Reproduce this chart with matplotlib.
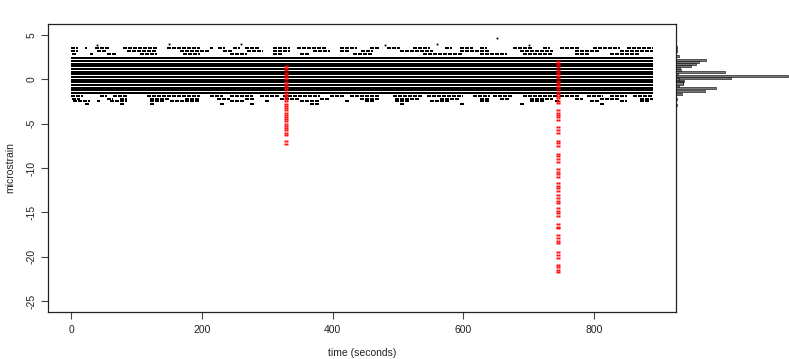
import matplotlib
matplotlib.use("Agg")
import matplotlib.pyplot as plt

# ---------------- data ----------------
t_start, t_end = 0, 890

# strain levels that are (almost) continuously occupied over the whole record
dense_levels = [2.35, 2.05, 1.75, 1.45, 1.15, 0.85, 0.55, 0.25, -0.05, -0.35,
                -0.65, -0.95, -1.25, -1.55]

# sparsely occupied levels and the time spans (s) where samples occur
sparse_levels = [3.55, 3.2, 2.8, -1.9, -2.2, -2.5, -2.8]
sparse_segments = [
    [(0, 11), (21, 24), (37, 60), (80, 132), (147, 197), (213, 217), (225, 236),
     (248, 259), (266, 289), (309, 335), (346, 392), (412, 438), (458, 473),
     (484, 503), (523, 549), (572, 583), (595, 615), (626, 636), (676, 707),
     (722, 733), (748, 779), (799, 840), (850, 890)],
    [(0, 11), (40, 55), (86, 132), (167, 213), (233, 248), (269, 294), (309, 335),
     (370, 396), (412, 427), (443, 462), (503, 554), (595, 641), (687, 737),
     (771, 809), (840, 890)],
    [(1, 9), (29, 34), (55, 70), (105, 132), (171, 197), (243, 269), (309, 324),
     (350, 365), (431, 462), (539, 600), (626, 667), (692, 737), (771, 794),
     (825, 871)],
    [(0, 18), (44, 55), (64, 86), (116, 197), (213, 233), (243, 278), (289, 320),
     (324, 381), (396, 419), (427, 473), (493, 539), (545, 600), (615, 641),
     (646, 676), (692, 744), (748, 779), (790, 814), (825, 851), (860, 890)],
    [(1, 14), (55, 64), (75, 86), (121, 151), (174, 197), (223, 243), (266, 282),
     (320, 350), (381, 396), (442, 473), (496, 534), (565, 595), (626, 641),
     (656, 672), (702, 737), (771, 783), (809, 840), (870, 890)],
    [(3, 29), (40, 44), (60, 86), (121, 144), (151, 197), (243, 266), (297, 305),
     (350, 381), (419, 427), (450, 465), (496, 519), (549, 580), (626, 641),
     (702, 725), (741, 748), (794, 809), (840, 851), (870, 885)],
    [(21, 29), (75, 83), (121, 129), (228, 236), (274, 282), (366, 381),
     (503, 511), (595, 603), (687, 695), (809, 817)],
]

outlier_t = [652, 260, 480, 40, 150, 560, 700]
outlier_y = [4.6, 4.0, 3.9, 3.9, 3.95, 4.0, 3.9]

# flagged samples (red)
red1_t = [327, 331]
red1_y = [1.5, 1.25, 1.0, 0.75, 0.5, 0.25, 0.0, -0.25, -0.5, -0.75, -1.0, -1.25,
          -1.5, -1.75, -2.0, -2.25, -2.5, -2.75, -3.0, -3.25, -3.5, -3.75, -4.0,
          -4.25, -4.5, -4.75, -5.0, -5.25, -5.5, -5.75, -6.0, -6.25, -7.0, -7.3]
red2_t = [743, 747]
red2_y = [2.1, 1.85, 1.6, 1.35, 1.1, 0.85, 0.6, 0.35, 0.1, -0.15, -0.4, -0.65,
          -0.9, -1.15, -1.4, -1.65, -1.9, -2.15, -2.4, -2.7,
          -3.5, -3.75, -4.0, -4.3, -4.6, -5.4, -5.7, -6.0, -6.9, -7.2, -7.5,
          -8.4, -8.7, -9.0, -9.3, -10.1, -10.4, -10.7, -11.0, -11.7, -12.0,
          -12.3, -12.6, -13.1, -13.4, -13.7, -13.9, -14.5, -14.8, -15.1, -15.4,
          -16.3, -16.6, -16.8, -17.6, -17.9, -18.2, -18.5, -19.5, -19.8, -20.1,
          -20.9, -21.2, -21.5, -21.7]

# marginal histogram (bar centres in microstrain, relative counts)
hist_levels = [3.6, 3.25, 2.67, 2.22, 1.96, 1.73, 1.46, 1.24, 1.09, 0.87, 0.63,
               0.41, 0.16, -0.02, -0.23, -0.36, -0.48, -0.74, -0.97, -1.31,
               -1.69, -2.2, -2.85]
hist_counts = [1, 1, 3, 30, 23, 20, 15, 4, 5, 49, 2, 112, 55, 3, 8, 7, 7, 3,
               40, 29, 6, 1, 1]

x_ticks = [0, 200, 400, 600, 800]
y_ticks = [5, 0, -5, -10, -15, -20, -25]

# ---------------- figure ----------------
plt.rcParams['font.family'] = ['Liberation Sans', 'DejaVu Sans']
plt.rcParams['axes.unicode_minus'] = False
W, H = 789, 359
fig = plt.figure(figsize=(W / 100, H / 100), dpi=100)
L, R, T, B = 47.7, 676.3, 24.3, 311.7
ax = fig.add_axes([L / W, 1 - B / H, (R - L) / W, (B - T) / H])

ax.hlines(dense_levels, t_start, t_end, color='black', lw=1.3, antialiased=False)
for lev, segs in zip(sparse_levels, sparse_segments):
    ax.hlines([lev] * len(segs), [s[0] for s in segs], [s[1] for s in segs],
              color='black', lw=1.3, antialiased=False,
              linestyles=[(0, (2.2, 0.8))])
ax.plot(outlier_t, outlier_y, 's', ms=1.3, color='black', mec='none')

for tt in red1_t:
    ax.plot([tt] * len(red1_y), red1_y, 's', ms=1.4, color='red', mec='none')
for tt in red2_t:
    ax.plot([tt] * len(red2_y), red2_y, 's', ms=1.4, color='red', mec='none')

ax.set_xlim(-35.8, 926)
ax.set_ylim(-26.2, 6.2)
ax.set_xticks(x_ticks)
ax.set_yticks(y_ticks)
ax.set_yticklabels([str(v) for v in y_ticks], rotation=90, va='center')
ax.tick_params(axis='both', length=4.8, width=0.8, color='#444444',
               labelsize=7.5, labelcolor='#222222')
ax.tick_params(axis='x', pad=5)
ax.tick_params(axis='y', pad=3.5)
for s in ax.spines.values():
    s.set_linewidth(0.9)
    s.set_color('#222222')
ax.set_xlabel('time (seconds)', fontsize=7.5, color='#222222', labelpad=9)
ax.set_ylabel('microstrain', fontsize=7.5, color='#222222', labelpad=8)

hx = fig.add_axes([R / W, 1 - B / H, (W - R) / W, (B - T) / H], sharey=ax)
hx.barh(hist_levels, hist_counts, height=0.24, color='#7a7a7a',
        edgecolor='black', linewidth=0.4)
hx.set_xlim(0, 112.7)
hx.axis('off')

fig.savefig('out.png', dpi=100)
